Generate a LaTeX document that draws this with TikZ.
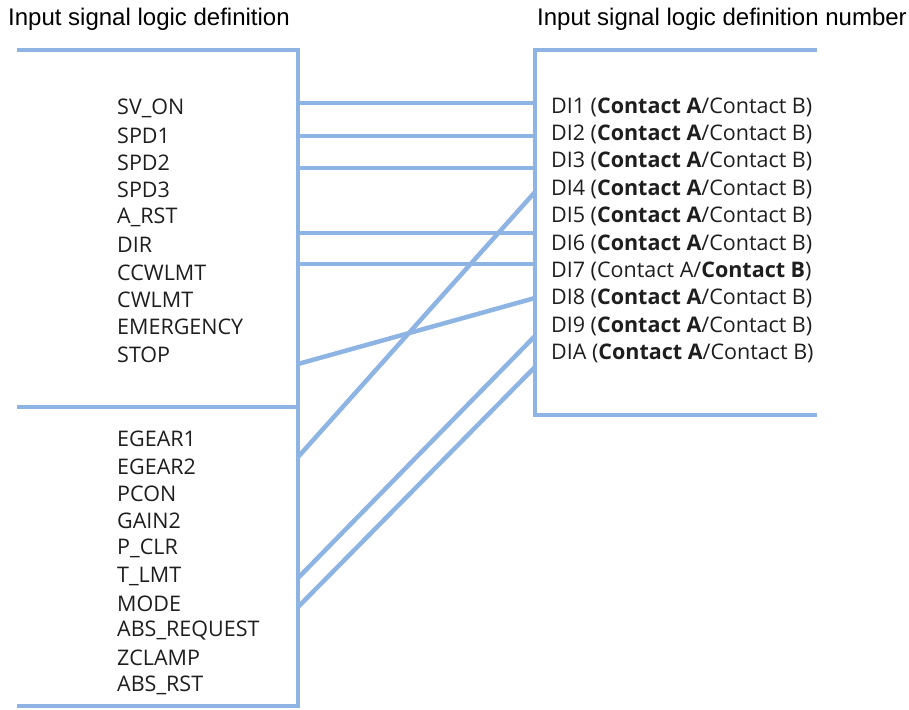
\documentclass[tikz,border=0pt]{standalone}
\usepackage{fontspec}
\setmainfont{Liberation Sans}
\newfontfamily\sigfont{Open Sans}
\usetikzlibrary{positioning}
\definecolor{wireblue}{RGB}{141,180,226}
\definecolor{ink}{RGB}{30,30,30}

\begin{document}
\begin{tikzpicture}[
      x=1pt, y=-1pt,
      wire/.style={draw=wireblue, line width=4.5pt},
      title/.style={font=\fontsize{24}{28}\selectfont, anchor=west, inner sep=0pt},
      sig/.style={font=\sigfont\fontsize{21.5}{24}\selectfont, text=ink,
                  anchor=west, inner sep=0pt}
    ]
    \useasboundingbox (0,0) rectangle (909,709);
    \node[title] (ltitle) at (8,19) {Input signal logic definition};
    \node[title] (rtitle) at (537,19) {Input signal logic definition number};

    % frames
    \draw[wire] (17,50) -- (298,50) -- (298,706) -- (17,706);
    \draw[wire] (17,407) -- (298,407);
    \draw[wire] (817,50) -- (535,50) -- (535,415) -- (817,415);

    % signal names
    \foreach \name [count=\i] in {SV\_ON, SPD1, SPD2, SPD3, A\_RST, DIR,
        CCWLMT, CWLMT, EMERGENCY, STOP}
      \node[sig] (up\i) at (117,{108+27.4*(\i-1)}) {\name};
    \foreach \name [count=\i] in {EGEAR1, EGEAR2, PCON, GAIN2, P\_CLR, T\_LMT,
        MODE, ABS\_REQUEST, ZCLAMP, ABS\_RST}
      \node[sig] (lo\i) at (117,{439+27.4*(\i-1)}) {\name};

    % DI numbers
    \foreach \num [count=\i] in {1,2,3,4,5,6,8,9,A}
      \node[sig] (di\num) at (551,{107+27.4*(\i-1+(\i>6))})
        {DI\num\ (\textbf{Contact A}/Contact B)};
    \node[sig] (di7) at (551,{107+27.4*6}) {DI7 (Contact A/\textbf{Contact B})};

    % wire ends
    \coordinate (sv)   at (298,103);
    \coordinate (spda) at (298,136);
    \coordinate (spdb) at (298,168);
    \coordinate (dir)  at (298,233);
    \coordinate (ccw)  at (298,264);
    \coordinate (stop) at (298,364);
    \coordinate (eg)   at (298,457);
    \coordinate (tlmt) at (298,578);
    \coordinate (mode) at (298,607);
    \coordinate (in1) at (535,103);
    \coordinate (in2) at (535,136);
    \coordinate (in3) at (535,168);
    \coordinate (in4) at (535,192);
    \coordinate (in6) at (535,233);
    \coordinate (in7) at (535,264);
    \coordinate (in8) at (535,298);
    \coordinate (in9) at (535,336);
    \coordinate (inA) at (535,367);

    \draw[wire] (sv) -- (in1);
    \draw[wire] (spda) -- (in2);
    \draw[wire] (spdb) -- (in3);
    \draw[wire] (dir) -- (in6);
    \draw[wire] (ccw) -- (in7);
    \draw[wire] (eg) -- (in4);
    \draw[wire] (stop) -- (in8);
    \draw[wire] (tlmt) -- (in9);
    \draw[wire] (mode) -- (inA);
  \end{tikzpicture}
\end{document}
